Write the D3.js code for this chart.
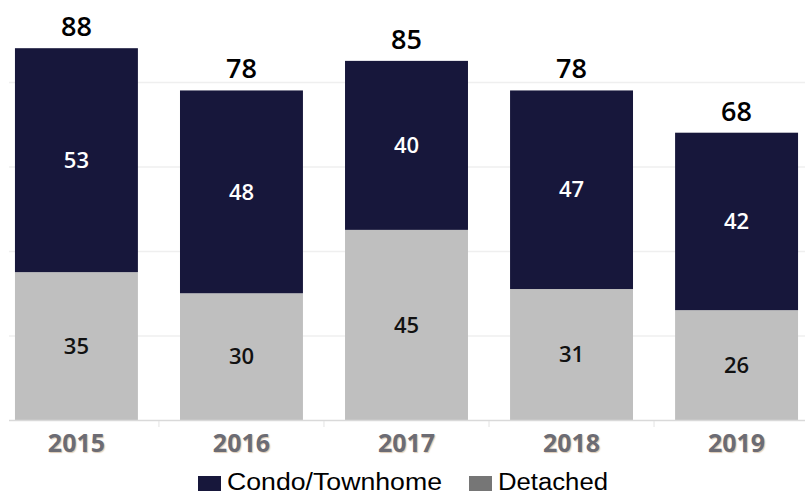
<!DOCTYPE html>
<html>
<head>
<meta charset="utf-8">
<script src="https://cdn.jsdelivr.net/npm/d3@7"></script>
<style>
  body { margin: 0; background: #fff; }
  svg { display: block; }
</style>
</head>
<body>
<script>
var width  = 809;
var height = 494;

var years    = ['2015', '2016', '2017', '2018', '2019'];
var detached = [35, 30, 45, 31, 26];
var condo    = [53, 48, 40, 47, 42];
var gridTicks = [0, 20, 40, 60, 80];

var navy  = '#17173b';
var light = '#bfbfbf';

var rows = years.map(function(y, i) {
  return { year: y, detached: detached[i], condo: condo[i] };
});

var x = d3.scaleBand().domain(years).range([-6, 819]).paddingInner(0.255).paddingOuter(0.127);
var y = d3.scaleLinear().domain([0, 100]).range([420, -2.5]);

var stack = d3.stack().keys(['detached', 'condo']);
var series = stack(rows);
var fills = { detached: light, condo: navy };

var svg = d3.select('body')
  .append('svg')
  .attr('width', width)
  .attr('height', height);

// gridlines
svg.append('g')
  .selectAll('line')
  .data(gridTicks.slice(1))
  .enter().append('line')
  .attr('x1', 9).attr('x2', 805)
  .attr('y1', function(d) { return y(d) + 0.5; })
  .attr('y2', function(d) { return y(d) + 0.5; })
  .attr('stroke', '#efefef')
  .attr('stroke-width', 1.5);

// bars
var layer = svg.append('g')
  .selectAll('g')
  .data(series)
  .enter().append('g')
  .attr('fill', function(s) { return fills[s.key]; });

layer.selectAll('rect')
  .data(function(s) { return s; })
  .enter().append('rect')
  .attr('x', function(d) { return x(d.data.year); })
  .attr('width', x.bandwidth())
  .attr('y', function(d) { return y(d[1]); })
  .attr('height', function(d) { return y(d[0]) - y(d[1]); });

// segment labels
layer.selectAll('text')
  .data(function(s) { return s.map(function(d) { d.key = s.key; return d; }); })
  .enter().append('text')
  .attr('x', function(d) { return x(d.data.year) + x.bandwidth() / 2; })
  .attr('y', function(d) { return (y(d[0]) + y(d[1])) / 2; })
  .attr('dy', '0.35em')
  .attr('text-anchor', 'middle')
  .style('font-family', '"Open Sans", sans-serif')
  .style('font-size', '22px')
  .style('font-weight', 600)
  .style('fill', function(d) { return d.key === 'condo' ? '#ffffff' : '#111111'; })
  .text(function(d) { return d[1] - d[0]; });

// totals
svg.append('g')
  .selectAll('text')
  .data(rows)
  .enter().append('text')
  .attr('x', function(d) { return x(d.year) + x.bandwidth() / 2; })
  .attr('y', function(d) { return y(d.detached + d.condo) - 12; })
  .attr('text-anchor', 'middle')
  .style('font-family', '"Open Sans", sans-serif')
  .style('font-size', '27px')
  .style('font-weight', 600)
  .style('fill', '#000')
  .text(function(d) { return d.detached + d.condo; });

// x axis
var axis = svg.append('g')
  .attr('transform', 'translate(0,' + 420.5 + ')')
  .call(d3.axisBottom(x).tickSize(0).tickPadding(14));
axis.select('.domain').remove();
axis.append('line')
  .attr('x1', 9).attr('x2', 805)
  .attr('stroke', '#d9d9d9').attr('stroke-width', 1.5);
axis.selectAll('.tick text')
  .style('font-family', '"Open Sans", sans-serif')
  .style('font-size', '25px')
  .style('font-weight', 700)
  .style('fill', '#6c6c74')
  .style('text-shadow', '1px 1px 1px rgba(180,140,90,0.45)');
// small separators between categories
svg.append('g')
  .selectAll('line')
  .data(years.slice(1))
  .enter().append('line')
  .attr('x1', function(d) { return x(d) - x.step() * x.paddingInner() / 2; })
  .attr('x2', function(d) { return x(d) - x.step() * x.paddingInner() / 2; })
  .attr('y1', 421).attr('y2', 427)
  .attr('stroke', '#e3e3e3');

// legend
var legendItems = [
  { name: 'Condo/Townhome', color: navy, x: 198, w: 215 },
  { name: 'Detached', color: '#767676', x: 469, w: 110 }
];
var legend = svg.append('g')
  .selectAll('g')
  .data(legendItems)
  .enter().append('g')
  .attr('transform', function(d) { return 'translate(' + d.x + ',' + 476 + ')'; });
legend.append('rect')
  .attr('width', 23).attr('height', 15)
  .attr('fill', function(d) { return d.color; });
legend.append('text')
  .attr('x', 29).attr('y', 14)
  .attr('textLength', function(d) { return d.w; })
  .attr('lengthAdjust', 'spacingAndGlyphs')
  .style('font-family', '"Liberation Sans", Arial, sans-serif')
  .style('font-size', '23px')
  .style('fill', '#000')
  .text(function(d) { return d.name; });
</script>
</body>
</html>
